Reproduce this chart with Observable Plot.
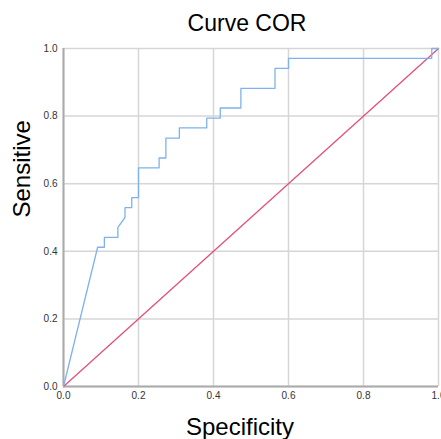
<!DOCTYPE html>
<html>
<head>
<meta charset="utf-8">
<script src="https://cdn.jsdelivr.net/npm/d3@7"></script>
<script src="https://cdn.jsdelivr.net/npm/@observablehq/plot@0.6"></script>
<style>
  html, body { margin: 0; padding: 0; background: #fff; }
  #chart svg { display: block; }
</style>
</head>
<body>
<div id="chart"></div>
<script>
// ROC curve vertices (1 - specificity axis labelled "Specificity", sensitivity)
const specificity = [0, 0.091, 0.109, 0.109, 0.145, 0.145, 0.164, 0.164, 0.182, 0.182, 0.2, 0.2,
  0.255, 0.255, 0.273, 0.273, 0.309, 0.309, 0.382, 0.382, 0.418, 0.418, 0.473, 0.473,
  0.564, 0.564, 0.6, 0.6, 0.982, 0.982, 1];
const sensitivity = [0, 0.412, 0.412, 0.441, 0.441, 0.471, 0.5, 0.529, 0.529, 0.559, 0.559, 0.647,
  0.647, 0.676, 0.676, 0.735, 0.735, 0.765, 0.765, 0.794, 0.794, 0.824, 0.824, 0.882,
  0.882, 0.941, 0.941, 0.971, 0.971, 1, 1];
const refX = [0, 1];
const refY = [0, 1];
const ticks = [0, 0.2, 0.4, 0.6, 0.8, 1.0];
const titleText = "Curve COR";
const xLabel = "Specificity";
const yLabel = "Sensitive";

const curve = specificity.map((x, i) => ({x, y: sensitivity[i]}));
const ref = refX.map((x, i) => ({x, y: refY[i]}));

const chart = Plot.plot({
  width: 441,
  height: 439,
  marginLeft: 63,
  marginRight: 3,
  marginTop: 48,
  marginBottom: 53,
  style: {fontFamily: "Liberation Sans, Arial, sans-serif", fontSize: "10px", color: "#333", background: "#fff"},
  x: {domain: [0, 1], ticks, tickFormat: d3.format(".1f"), label: null},
  y: {domain: [0, 1], ticks, tickFormat: d3.format(".1f"), label: null},
  marks: [
    Plot.gridX(ticks, {stroke: "#d6d6d6", strokeWidth: 1.5, strokeOpacity: 1}),
    Plot.gridY(ticks, {stroke: "#d6d6d6", strokeWidth: 1.5, strokeOpacity: 1}),
    Plot.axisX({ticks, tickFormat: d3.format(".1f"), tickSize: 0, tickPadding: 5, label: null}),
    Plot.axisY({ticks, tickFormat: d3.format(".1f"), tickSize: 0, tickPadding: 6, label: null}),
    Plot.ruleX([0], {stroke: "#aaaaaa", strokeWidth: 2}),
    Plot.ruleY([0], {stroke: "#aaaaaa", strokeWidth: 2}),
    Plot.line(ref, {x: "x", y: "y", stroke: "#e5507a", strokeWidth: 1.3}),
    Plot.line(curve, {x: "x", y: "y", stroke: "#7fb2ec", strokeWidth: 1.3}),
    Plot.text([titleText], {frameAnchor: "top", lineAnchor: "middle", dy: -25, dx: -4, fontSize: 23, fill: "#000"}),
    Plot.text([xLabel], {frameAnchor: "bottom", lineAnchor: "middle", dy: 41, dx: -11, fontSize: 24, fill: "#000"}),
    Plot.text([yLabel], {frameAnchor: "left", lineAnchor: "middle", dx: -41, rotate: -90, fontSize: 24, fill: "#000"})
  ]
});
document.getElementById("chart").appendChild(chart);
</script>
</body>
</html>
